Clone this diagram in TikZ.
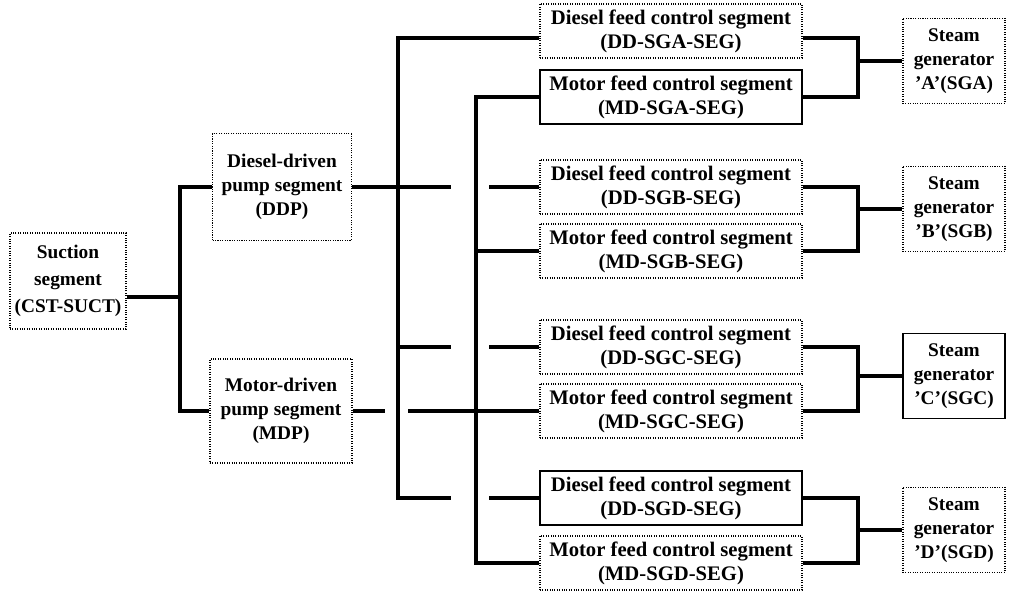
\documentclass[tikz,border=0pt]{standalone}
\usepackage{fontspec}
\setmainfont{Liberation Serif}
\begin{document}
\begin{tikzpicture}[x=0.75pt,y=-0.75pt,
  seg/.style={draw, densely dotted, line width=0.8pt, align=center, inner sep=0pt,
    font=\bfseries\fontsize{14.5}{18}\selectfont},
  plain/.style={solid},
  feed/.style={seg, minimum width=196.5pt, minimum height=40.5pt,
    font=\bfseries\fontsize{15.5}{18}\selectfont},
  steam/.style={seg, minimum width=76.5pt, minimum height=64pt},
  conn/.style={line width=3pt},
  link/.style={line width=2.3pt}]
\useasboundingbox (0,0) rectangle (1009,593);
\fill[white] (0,0) rectangle (1009,593);

% pump-side segments
\node[seg, minimum width=87pt, minimum height=72pt,
  font=\bfseries\fontsize{14.5}{20}\selectfont] (suct) at (68,281) {Suction\\segment\\(CST-SUCT)};
\node[seg, minimum width=104pt, minimum height=80pt] (ddp) at (282,187) {Diesel-driven\\pump segment\\(DDP)};
\node[seg, minimum width=106.5pt, minimum height=78pt] (mdp) at (281,411) {Motor-driven\\pump segment\\(MDP)};

% feed control segments
\node[feed] (dda) at (671,31) {Diesel feed control segment\\(DD-SGA-SEG)};
\node[feed, plain] (mda) at (671,97) {Motor feed control segment\\(MD-SGA-SEG)};
\node[feed] (ddb) at (671,187) {Diesel feed control segment\\(DD-SGB-SEG)};
\node[feed] (mdb) at (671,251) {Motor feed control segment\\(MD-SGB-SEG)};
\node[feed] (ddc) at (671,347) {Diesel feed control segment\\(DD-SGC-SEG)};
\node[feed] (mdc) at (671,411) {Motor feed control segment\\(MD-SGC-SEG)};
\node[feed, plain] (ddd) at (671,498) {Diesel feed control segment\\(DD-SGD-SEG)};
\node[feed] (mdd) at (671,563) {Motor feed control segment\\(MD-SGD-SEG)};

% steam generators
\node[steam] (sga) at (954,61) {Steam\\generator\\'A'(SGA)};
\node[steam] (sgb) at (954,209) {Steam\\generator\\'B'(SGB)};
\node[steam, plain] (sgc) at (954,376) {Steam\\generator\\'C'(SGC)};
\node[steam] (sgd) at (954,530) {Steam\\generator\\'D'(SGD)};

% bus positions and line breaks
\coordinate (b0) at (180,0);
\coordinate (b1) at (398,0);
\coordinate (b2) at (476,0);
\coordinate (g0) at (385,0);
\coordinate (g0b) at (408,0);
\coordinate (g1) at (451,0);
\coordinate (g2) at (489,0);
\coordinate (r) at (858,0);

% suction to pumps
\coordinate (sj) at ([yshift=-12pt]suct.east);
\draw[conn] (sj) -- (sj -| b0);
\draw[conn] (ddp.west) -| (b0 |- mdp.west) -- (mdp.west);

% diesel pump header
\draw[conn] (ddp.east) -- (ddp.east -| g1);
\coordinate (daL) at ([yshift=-5pt]dda.west);
\draw[conn] (daL) -| (b1 |- ddd.west) -- (ddd.west -| g1);
\draw[conn] (b1 |- ddc.west) -- (ddc.west -| g1);
\draw[conn] (ddb.west -| g2) -- (ddb.west);
\draw[conn] (ddc.west -| g2) -- (ddc.west);
\draw[conn] (ddd.west -| g2) -- (ddd.west);

% motor pump header
\draw[conn] (mdp.east) -- (mdp.east -| g0);
\draw[conn] (mdp.east -| g0b) -- (mdc.west);
\draw[conn] (mda.west) -| (b2 |- mdd.west) -- (mdd.west);
\draw[conn] (b2 |- mdb.west) -- (mdb.west);

% feed segments to steam generators
\coordinate (daR) at ([yshift=-5pt]dda.east);
\draw[conn] (daR) -| (r |- mda.east) -- (mda.east);
\draw[link] (r |- sga.west) -- (sga.west);
\draw[conn] (ddb.east) -| (r |- mdb.east) -- (mdb.east);
\draw[link] (r |- sgb.west) -- (sgb.west);
\draw[conn] (ddc.east) -| (r |- mdc.east) -- (mdc.east);
\draw[link] (r |- sgc.west) -- (sgc.west);
\draw[conn] (ddd.east) -| (r |- mdd.east) -- (mdd.east);
\draw[link] (r |- sgd.west) -- (sgd.west);
\end{tikzpicture}
\end{document}
